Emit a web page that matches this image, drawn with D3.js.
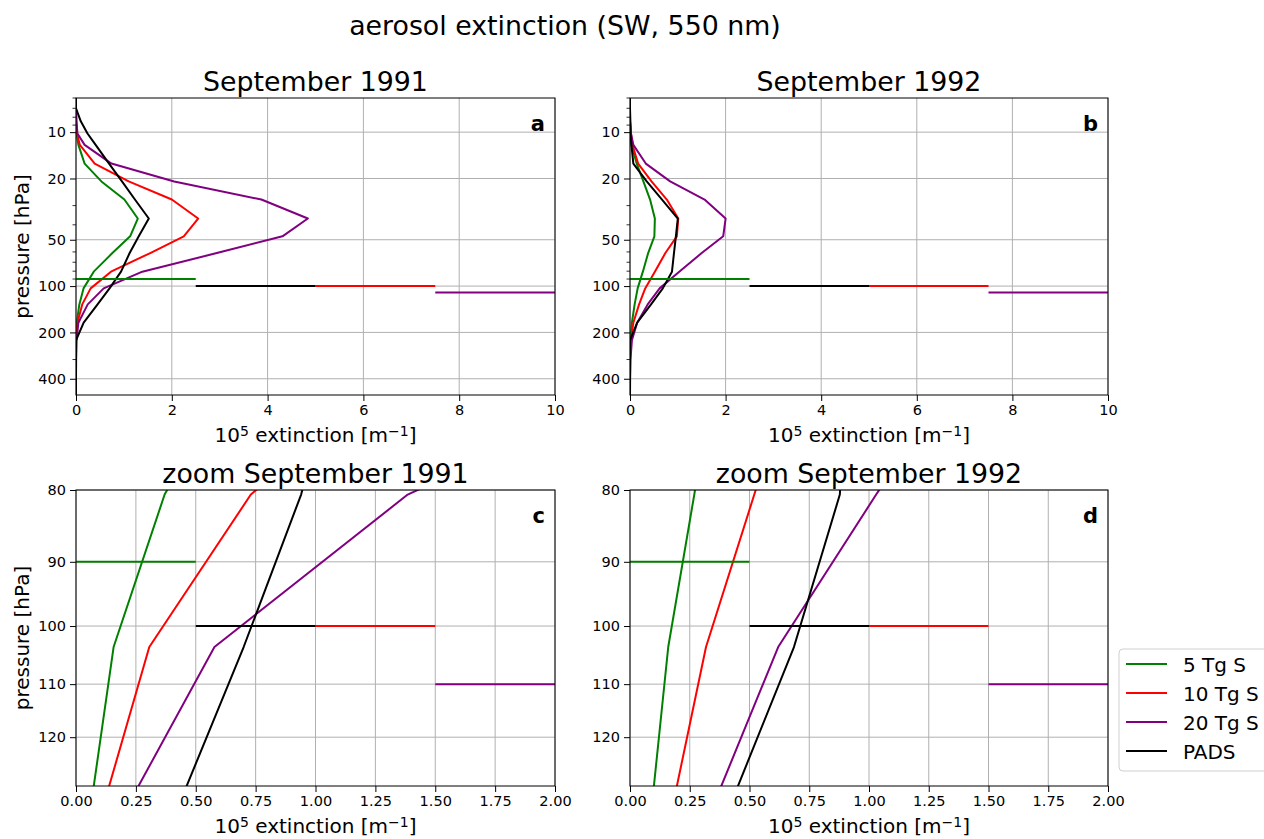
<!DOCTYPE html>
<html>
<head>
<meta charset="utf-8">
<script src="https://cdn.jsdelivr.net/npm/d3@7"></script>
<style>
body { margin: 0; background: #fff; }
svg text { font-family: "DejaVu Sans", sans-serif; fill: #000; }
</style>
</head>
<body>
<script>
// model pressure levels [hPa]
var levels = [6, 7, 8.5, 10.2, 12.1, 16.0, 20.9, 27.4, 36.4, 47.5, 61, 80.6, 103.5, 131.5, 173, 225, 300, 400, 510];

// aerosol extinction (10^5 m-1), September 1991
var sep91_5Tg  = [0, 0, 0, 0.01, 0.05, 0.18, 0.53, 1.01, 1.29, 1.13, 0.76, 0.37, 0.157, 0.07, 0.015, 0.003, 0, 0, 0];
var sep91_10Tg = [0, 0, 0.005, 0.02, 0.08, 0.39, 1.1, 2.0, 2.55, 2.25, 1.55, 0.73, 0.306, 0.13, 0.03, 0.005, 0, 0, 0];
var sep91_20Tg = [0, 0, 0.01, 0.03, 0.18, 0.74, 2.05, 3.87, 4.84, 4.31, 2.94, 1.385, 0.578, 0.245, 0.05, 0.01, 0.003, 0, 0];
var sep91_PADS = [0, 0, 0.10, 0.24, 0.41, 0.69, 0.96, 1.23, 1.52, 1.31, 1.12, 0.94, 0.70, 0.45, 0.16, 0, 0, 0, 0];

// September 1992
var sep92_5Tg  = [0, 0, 0, 0.01, 0.03, 0.14, 0.28, 0.42, 0.52, 0.51, 0.38, 0.269, 0.16, 0.097, 0.04, 0.01, 0, 0, 0];
var sep92_10Tg = [0, 0, 0, 0.02, 0.05, 0.17, 0.45, 0.77, 1.01, 0.98, 0.74, 0.52, 0.318, 0.19, 0.07, 0.02, 0.005, 0, 0];
var sep92_20Tg = [0, 0, 0.01, 0.02, 0.07, 0.33, 0.84, 1.56, 2.0, 1.95, 1.5, 1.03, 0.62, 0.37, 0.15, 0.04, 0.01, 0.003, 0];
var sep92_PADS = [0, 0, 0, 0.01, 0.03, 0.07, 0.35, 0.67, 1.0, 0.96, 0.92, 0.878, 0.686, 0.44, 0.15, 0, 0, 0, 0];

var seriesNames  = ["5 Tg S", "10 Tg S", "20 Tg S", "PADS"];
var seriesColors = ["green", "red", "purple", "black"];

// tropopause pressure per series and which quarter of the x axis its marker uses
var tropPressure = [90, 100, 110, 100];
var tropSlot     = [0, 2, 3, 1];

var yTicksFull  = [10, 20, 50, 100, 200, 400];
var yMinorFull  = [6, 7, 8, 9, 30, 40, 60, 70, 80, 90, 300];
var yTicksZoom  = [80, 90, 100, 110, 120];
var xTicksFull  = [0, 2, 4, 6, 8, 10];
var xTicksZoom  = [0, 0.25, 0.5, 0.75, 1.0, 1.25, 1.5, 1.75, 2.0];

var W = 1264, H = 839;

var svg = d3.select("body").append("svg")
  .attr("width", W)
  .attr("height", H);

svg.append("text")
  .attr("x", 565)
  .attr("y", 35)
  .attr("text-anchor", "middle")
  .style("font-size", "26.8px")
  .text("aerosol extinction (SW, 550 nm)");

var panels = [
  {id: "a", title: "September 1991", data: [sep91_5Tg, sep91_10Tg, sep91_20Tg, sep91_PADS],
   left: 76, top: 98, w: 479, h: 297, xmax: 10, ylim: [6, 510], yticks: yTicksFull, yminor: yMinorFull, xticks: xTicksFull, fmt: d3.format("d"), ylabel: true},
  {id: "b", title: "September 1992", data: [sep92_5Tg, sep92_10Tg, sep92_20Tg, sep92_PADS],
   left: 630, top: 98, w: 478, h: 297, xmax: 10, ylim: [6, 510], yticks: yTicksFull, yminor: yMinorFull, xticks: xTicksFull, fmt: d3.format("d"), ylabel: false},
  {id: "c", title: "zoom September 1991", data: [sep91_5Tg, sep91_10Tg, sep91_20Tg, sep91_PADS],
   left: 76, top: 490, w: 479, h: 296, xmax: 2, ylim: [80, 130], yticks: yTicksZoom, yminor: [], xticks: xTicksZoom, fmt: d3.format(".2f"), ylabel: true},
  {id: "d", title: "zoom September 1992", data: [sep92_5Tg, sep92_10Tg, sep92_20Tg, sep92_PADS],
   left: 630, top: 490, w: 478, h: 296, xmax: 2, ylim: [80, 130], yticks: yTicksZoom, yminor: [], xticks: xTicksZoom, fmt: d3.format(".2f"), ylabel: false}
];

panels.forEach(drawPanel);
drawLegend();

function drawPanel(p) {
  var x = d3.scaleLinear().domain([0, p.xmax]).range([p.left, p.left + p.w]);
  var y = d3.scaleLog().domain(p.ylim).range([p.top, p.top + p.h]);

  svg.append("clipPath")
    .attr("id", "clip" + p.id)
    .append("rect")
    .attr("x", p.left)
    .attr("y", p.top)
    .attr("width", p.w)
    .attr("height", p.h);

  // grid
  var grid = svg.append("g").attr("class", "grid");
  grid.selectAll(".gx").data(p.xticks).enter().append("line")
    .attr("x1", function(d) { return x(d); })
    .attr("x2", function(d) { return x(d); })
    .attr("y1", p.top)
    .attr("y2", p.top + p.h)
    .attr("stroke", "#b0b0b0")
    .attr("stroke-width", 1);
  grid.selectAll(".gy").data(p.yticks).enter().append("line")
    .attr("x1", p.left)
    .attr("x2", p.left + p.w)
    .attr("y1", function(d) { return y(d); })
    .attr("y2", function(d) { return y(d); })
    .attr("stroke", "#b0b0b0")
    .attr("stroke-width", 1);

  // curves and tropopause markers
  var line = d3.line()
    .x(function(d) { return x(d[0]); })
    .y(function(d) { return y(d[1]); });

  var plot = svg.append("g").attr("clip-path", "url(#clip" + p.id + ")");
  p.data.forEach(function(vals, i) {
    var pts = vals.map(function(v, k) { return [v, levels[k]]; });
    plot.append("path")
      .attr("d", line(pts))
      .attr("fill", "none")
      .attr("stroke", seriesColors[i])
      .attr("stroke-width", 2)
      .attr("stroke-linejoin", "round");
  });
  p.data.forEach(function(vals, i) {
    var q = p.xmax / 4;
    plot.append("line")
      .attr("x1", x(tropSlot[i] * q))
      .attr("x2", x((tropSlot[i] + 1) * q))
      .attr("y1", y(tropPressure[i]))
      .attr("y2", y(tropPressure[i]))
      .attr("stroke", seriesColors[i])
      .attr("stroke-width", 2);
  });

  // axes
  var xAxis = d3.axisBottom(x).tickValues(p.xticks).tickFormat(p.fmt).tickSize(6).tickPadding(4);
  var yAxis = d3.axisLeft(y).tickValues(p.yticks).tickFormat(d3.format("d")).tickSize(6).tickPadding(4);

  var gx = svg.append("g")
    .attr("transform", "translate(0," + (p.top + p.h) + ")")
    .call(xAxis);
  var gy = svg.append("g")
    .attr("transform", "translate(" + p.left + ",0)")
    .call(yAxis);
  [gx, gy].forEach(function(g) {
    g.select(".domain").remove();
    g.selectAll("text").style("font-size", "14.5px").attr("fill", "#000");
    g.selectAll("line").attr("stroke", "#000").attr("stroke-width", 1);
  });

  // minor ticks on log axis
  svg.append("g").selectAll("line").data(p.yminor).enter().append("line")
    .attr("x1", p.left - 3.5)
    .attr("x2", p.left)
    .attr("y1", function(d) { return y(d); })
    .attr("y2", function(d) { return y(d); })
    .attr("stroke", "#000")
    .attr("stroke-width", 0.8);

  // frame
  svg.append("rect")
    .attr("x", p.left)
    .attr("y", p.top)
    .attr("width", p.w)
    .attr("height", p.h)
    .attr("fill", "none")
    .attr("stroke", "#000")
    .attr("stroke-width", 1);

  // titles and labels
  svg.append("text")
    .attr("x", p.left + p.w / 2)
    .attr("y", p.top - 7)
    .attr("text-anchor", "middle")
    .style("font-size", "26.8px")
    .text(p.title);

  svg.append("text")
    .attr("x", p.left + p.w - 10)
    .attr("y", p.top + 33)
    .attr("text-anchor", "end")
    .style("font-size", "21px")
    .style("font-weight", "bold")
    .text(p.id);

  var xl = svg.append("text")
    .attr("x", p.left + p.w / 2)
    .attr("y", p.top + p.h + 47)
    .attr("text-anchor", "middle")
    .style("font-size", "20px");
  xl.append("tspan").text("10");
  xl.append("tspan").attr("baseline-shift", "45%").style("font-size", "14px").text("5");
  xl.append("tspan").text(" extinction [m");
  xl.append("tspan").attr("baseline-shift", "45%").style("font-size", "14px").text("\u22121");
  xl.append("tspan").text("]");

  if (p.ylabel) {
    svg.append("text")
      .attr("transform", "translate(29," + (p.top + p.h / 2) + ") rotate(-90)")
      .attr("text-anchor", "middle")
      .style("font-size", "20px")
      .text("pressure [hPa]");
  }
}

function drawLegend() {
  var lg = svg.append("g").attr("transform", "translate(1119,649)");
  lg.append("rect")
    .attr("x", 0)
    .attr("y", 0)
    .attr("width", 160)
    .attr("height", 122)
    .attr("rx", 4)
    .attr("fill", "#fff")
    .attr("stroke", "#d0d0d0")
    .attr("stroke-width", 1);
  var items = lg.selectAll(".item").data(seriesNames).enter().append("g")
    .attr("transform", function(d, i) { return "translate(0," + (15 + i * 29) + ")"; });
  items.append("line")
    .attr("x1", 7)
    .attr("x2", 48)
    .attr("y1", 0)
    .attr("y2", 0)
    .attr("stroke", function(d, i) { return seriesColors[i]; })
    .attr("stroke-width", 2);
  items.append("text")
    .attr("x", 64)
    .attr("y", 8)
    .style("font-size", "20px")
    .text(function(d) { return d; });
}
</script>
</body>
</html>
